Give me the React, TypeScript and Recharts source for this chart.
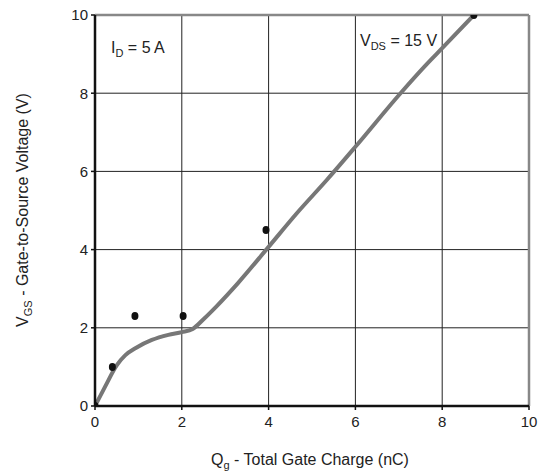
import React from "react";
import {
  ComposedChart,
  Line,
  Scatter,
  XAxis,
  YAxis,
  CartesianGrid,
  ReferenceLine,
} from "recharts";

// gate charge curve (nC, V)
const curveQg = [0, 0.23, 0.5, 0.7, 0.95, 1.31, 1.69, 2.0, 2.25, 2.5, 2.8, 3.3, 4.0, 4.65, 5.34, 6.0, 7.04, 7.65, 8.0, 8.73];
const curveVgs = [0, 0.49, 1.04, 1.3, 1.49, 1.69, 1.82, 1.89, 1.97, 2.22, 2.55, 3.15, 4.07, 4.93, 5.78, 6.63, 8.0, 8.75, 9.15, 10];

// measured points
const dotQg = [0, 0.4, 0.92, 2.03, 3.94, 8.73];
const dotVgs = [0, 1.0, 2.3, 2.3, 4.5, 10];

const xTicks = [0, 2, 4, 6, 8, 10];
const yTicks = [0, 2, 4, 6, 8, 10];

const curve = curveQg.map((x, i) => ({ x, y: curveVgs[i] }));
const dots = dotQg.map((x, i) => ({ x, y: dotVgs[i] }));

const FONT = "'Liberation Sans', Arial, sans-serif";
const tickStyle = { fill: "#222", fontSize: 15, fontFamily: FONT };

const Dot = (props: any) => (
  <ellipse cx={props.cx} cy={props.cy} rx={3.5} ry={4} fill="#111" />
);

export default function App() {
  return (
    <div style={{ position: "absolute", left: 0, top: 0, width: 550, height: 474, background: "#fff" }}>
      <ComposedChart
        width={550}
        height={474}
        margin={{ top: 15, right: 21, bottom: 38, left: 35 }}
      >
        <CartesianGrid stroke="#222" strokeWidth={1} />
        <XAxis
          type="number"
          dataKey="x"
          domain={[0, 10]}
          ticks={xTicks}
          allowDataOverflow
          height={30}
          tick={tickStyle}
          tickSize={4}
          tickMargin={6}
          axisLine={{ stroke: "#111", strokeWidth: 2.5 }}
          tickLine={{ stroke: "#111", strokeWidth: 1.5 }}
        />
        <YAxis
          type="number"
          dataKey="y"
          domain={[0, 10]}
          ticks={yTicks}
          allowDataOverflow
          width={60}
          tick={tickStyle}
          tickSize={4}
          tickMargin={3}
          axisLine={{ stroke: "#111", strokeWidth: 2.5 }}
          tickLine={{ stroke: "#111", strokeWidth: 1.5 }}
        />
        <ReferenceLine y={10} stroke="#888" strokeWidth={2.5} />
        <ReferenceLine x={10} stroke="#888" strokeWidth={2.5} />
        <Line
          data={curve}
          dataKey="y"
          type="monotone"
          stroke="#777"
          strokeWidth={4}
          dot={false}
          activeDot={false}
          isAnimationActive={false}
        />
        <Scatter data={dots} dataKey="y" shape={Dot} isAnimationActive={false} />
      </ComposedChart>
      <svg
        width={550}
        height={474}
        style={{ position: "absolute", left: 0, top: 0, pointerEvents: "none" }}
        fontFamily={FONT}
        fill="#222"
      >
        <text x={111} y={53} fontSize={16}>
          I<tspan dy={4} fontSize={11}>D</tspan>
          <tspan dy={-4}> = 5 A</tspan>
        </text>
        <text x={360} y={46} fontSize={16}>
          V<tspan dy={4} fontSize={11}>DS</tspan>
          <tspan dy={-4}> = 15 V</tspan>
        </text>
        <text x={310} y={465} fontSize={16} textAnchor="middle">
          Q<tspan dy={4} fontSize={11}>g</tspan>
          <tspan dy={-4}> - Total Gate Charge (nC)</tspan>
        </text>
        <text x={28} y={210} fontSize={16} textAnchor="middle" transform="rotate(-90, 28, 210)">
          V<tspan dy={4} fontSize={11}>GS</tspan>
          <tspan dy={-4}> - Gate-to-Source Voltage (V)</tspan>
        </text>
      </svg>
    </div>
  );
}
